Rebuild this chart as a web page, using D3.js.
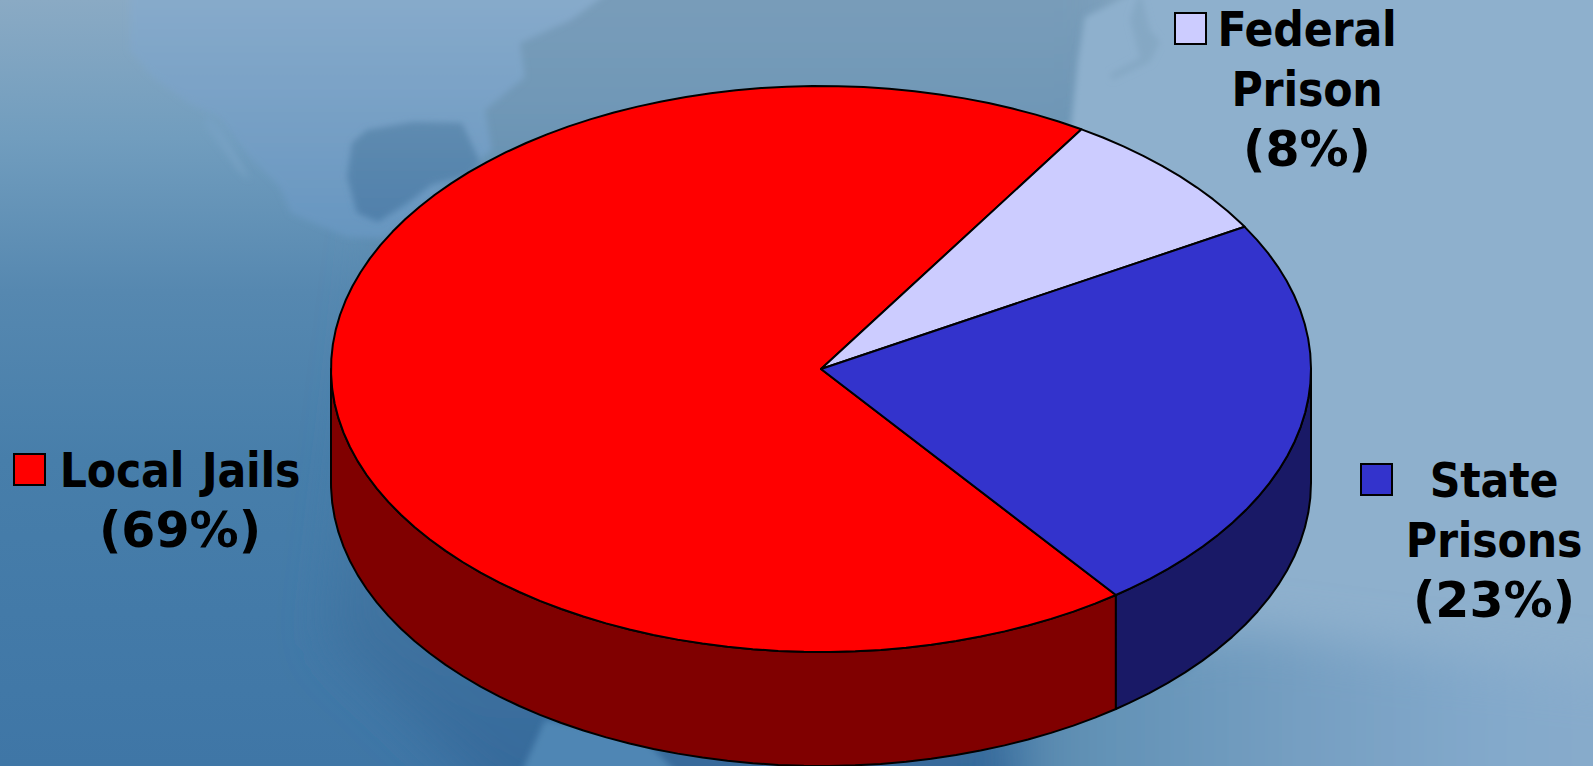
<!DOCTYPE html>
<html>
<head>
<meta charset="utf-8">
<script src="https://cdnjs.cloudflare.com/ajax/libs/d3/7.8.5/d3.min.js"></script>
<style>
  html, body { margin: 0; padding: 0; overflow: hidden; }
  svg { display: block; }
  .label {
    font-family: "DejaVu Sans", sans-serif;
    font-stretch: condensed;
    font-weight: bold;
    font-size: 47.5px;
    letter-spacing: -0.2px;
    word-spacing: 3px;
    fill: #000;
    text-anchor: middle;
  }
  .label.pct {
    font-size: 49px;
    font-stretch: normal;
    letter-spacing: 0;
  }
</style>
</head>
<body>
<svg id="chart"></svg>
<script>
const categories = ['Local Jails', 'Federal Prison', 'State Prisons'];
const shares = [69.2, 7.7, 23.1];
const labelLines = [
  ['Local Jails', '(69%)'],
  ['Federal', 'Prison', '(8%)'],
  ['State', 'Prisons', '(23%)']
];
const topColors = ['#ff0000', '#ccccff', '#3333cc'];
const sideColors = ['#800000', '#66667f', '#191966'];

const width = 1593;
const height = 766;
const center = {x: 821, y: 369};
const radius = {x: 490, y: 283};
const depth = 114;
const startDeg = 143;

// where the label blocks sit, same order as categories
const labelPos = [
  {x: 180, y: 487, boxX: 14, boxY: 454},
  {x: 1307, y: 46, boxX: 1175, boxY: 13},
  {x: 1494, y: 497, boxX: 1361, boxY: 464}
];
const lineStep = 60;
const boxSize = 31;

const svg = d3.select('#chart')
    .attr('width', width)
    .attr('height', height);

const defs = svg.append('defs');

const gradient = (id, attrs, stops) => {
  const g = defs.append('linearGradient').attr('id', id);
  Object.entries(attrs).forEach(([k, v]) => g.attr(k, v));
  stops.forEach(([offset, color]) => {
    g.append('stop')
        .attr('offset', offset)
        .attr('stop-color', color);
  });
};

gradient('sea', {x1: 0, y1: 0, x2: 0, y2: 1}, [
  [0, '#8aaac4'], [0.18, '#719dbe'], [0.38, '#5688b0'], [0.6, '#477eaa'], [1, '#3f76a6']
]);
gradient('ocean', {x1: 0, y1: 0, x2: 0, y2: 1}, [
  [0, '#7d9fbb'], [0.2, '#6f97b6'], [0.45, '#4f82a9'], [1, '#336799']
]);
gradient('land', {x1: 0, y1: 0, x2: 0, y2: 1}, [
  [0, '#88abcb'], [1, '#6796c0']
]);
gradient('gulf', {x1: 0, y1: 0, x2: 0, y2: 1}, [
  [0, '#5f8bb0'], [1, '#5080ab']
]);
gradient('southEast', {x1: 0, y1: 0, x2: 1, y2: 0}, [
  [0, '#5585ab'], [0.1, '#6191b5'], [0.45, '#769fc2'], [0.75, '#83a9cb'], [1, '#8aaccc']
]);

defs.append('filter').attr('id', 'soft')
    .attr('x', '-10%').attr('y', '-10%').attr('width', '120%').attr('height', '120%')
  .append('feGaussianBlur').attr('stdDeviation', 3);
defs.append('filter').attr('id', 'softer')
    .attr('x', '-30%').attr('y', '-30%').attr('width', '160%').attr('height', '160%')
  .append('feGaussianBlur').attr('stdDeviation', 24);

// background map, just a backdrop
const map = svg.append('g');
map.append('rect').attr('width', width).attr('height', height).attr('fill', 'url(#sea)');
map.append('path')
    .attr('d', 'M420,-60 H1120 V130 L900,330 L1040,826 H520 L330,640 Z')
    .attr('fill', 'url(#ocean)')
    .attr('filter', 'url(#softer)');
map.append('path')
    .attr('d', 'M130,-10 L130,50 L153,77 L189,103 L219,117 L250,157 L280,187 L291,213 L347,237 L385,238 L440,190 L480,160 L492,150 L485,110 L525,77 L520,43 L571,20 L612,-10 Z')
    .attr('fill', 'url(#land)')
    .attr('filter', 'url(#soft)');
map.append('path')
    .attr('d', 'M367,130 L413,122 L462,123 L480,162 L470,175 L432,185 L408,203 L378,222 L357,213 L347,177 L352,143 Z')
    .attr('fill', 'url(#gulf)')
    .attr('filter', 'url(#soft)');
map.append('path')
    .attr('d', 'M207,113 L222,128 L250,180 L240,172 L205,126 Z')
    .attr('fill', '#76a0c3')
    .attr('filter', 'url(#soft)');
map.append('path')
    .attr('d', 'M1140,-10 L1085,17 L1078,60 L1070,135 L1300,400 L1250,600 L1100,786 H1603 V-10 Z')
    .attr('fill', '#8eb0cd')
    .attr('filter', 'url(#soft)');
map.append('path')
    .attr('d', 'M1140,-10 L1150,30 L1160,42 L1150,62 L1112,80 L1110,74 L1140,58 L1130,20 Z')
    .attr('fill', '#85a8c4')
    .attr('filter', 'url(#soft)');
map.append('path')
    .attr('d', 'M1020,660 L1250,630 L1400,650 L1650,680 V830 H1020 Z')
    .attr('fill', 'url(#southEast)')
    .attr('filter', 'url(#softer)');
map.append('path')
    .attr('d', 'M520,776 L545,720 L640,735 L680,776 Z')
    .attr('fill', '#4f86b4')
    .attr('filter', 'url(#soft)');

const x = d3.scaleLinear().domain([-1, 1]).range([center.x - radius.x, center.x + radius.x]);
const y = d3.scaleLinear().domain([-1, 1]).range([center.y - radius.y, center.y + radius.y]);

const toRad = (d) => d * Math.PI / 180;

const pie = d3.pie()
    .sort(null)
    .startAngle(toRad(startDeg))
    .endAngle(toRad(startDeg + 360));

const slices = pie(shares);

// walks round the rim, 3 degrees at a time like the original's faceted edge
const rim = (a0, a1) => {
  const step = toRad(3);
  return d3.range(a0, a1, step).concat([a1]);
};

const rimPoint = (a, drop) => [x(Math.sin(a)), y(-Math.cos(a)) + drop];

const line = d3.line();

const sidePath = (a0, a1) => {
  const angles = rim(a0, a1);
  const upper = angles.map((a) => rimPoint(a, 0));
  const lower = angles.slice().reverse().map((a) => rimPoint(a, depth));
  return `${ line(upper.concat(lower)) }Z`;
};

const topPath = (d) => {
  const pts = [[x(0), y(0)]].concat(rim(d.startAngle, d.endAngle).map((a) => rimPoint(a, 0)));
  return `${ line(pts) }Z`;
};

const pieGroup = svg.append('g')
    .attr('stroke', '#000')
    .attr('stroke-width', 2)
    .attr('stroke-linejoin', 'round');

// only the front half of the wall shows (90 to 270 degrees from the top)
const frontFrom = toRad(90);
const frontTo = toRad(270);

const walls = [];
slices.forEach((d, i) => {
  [0, 2 * Math.PI].forEach((turn) => {
    const a0 = Math.max(d.startAngle, frontFrom + turn);
    const a1 = Math.min(d.endAngle, frontTo + turn);
    if (a1 > a0) walls.push({a0, a1, i});
  });
});

pieGroup.selectAll('.wall')
    .data(walls)
  .enter().append('path')
    .attr('class', 'wall')
    .attr('d', (d) => sidePath(d.a0, d.a1))
    .attr('fill', (d) => sideColors[d.i]);

pieGroup.selectAll('.slice')
    .data(slices)
  .enter().append('path')
    .attr('class', 'slice')
    .attr('d', topPath)
    .attr('fill', (d, i) => topColors[i]);

const legend = svg.selectAll('.legend')
    .data(categories)
  .enter().append('g')
    .attr('class', 'legend');

legend.append('rect')
    .attr('x', (d, i) => labelPos[i].boxX)
    .attr('y', (d, i) => labelPos[i].boxY)
    .attr('width', boxSize)
    .attr('height', boxSize)
    .attr('fill', (d, i) => topColors[i])
    .attr('stroke', '#000')
    .attr('stroke-width', 2);

legend.each(function(d, i) {
  d3.select(this).selectAll('text')
      .data(labelLines[i])
    .enter().append('text')
      .attr('class', (t) => t.startsWith('(') ? 'label pct' : 'label')
      .attr('x', labelPos[i].x)
      .attr('y', (t, j) => labelPos[i].y + j * lineStep)
      .text((t) => t);
});
</script>
</body>
</html>
